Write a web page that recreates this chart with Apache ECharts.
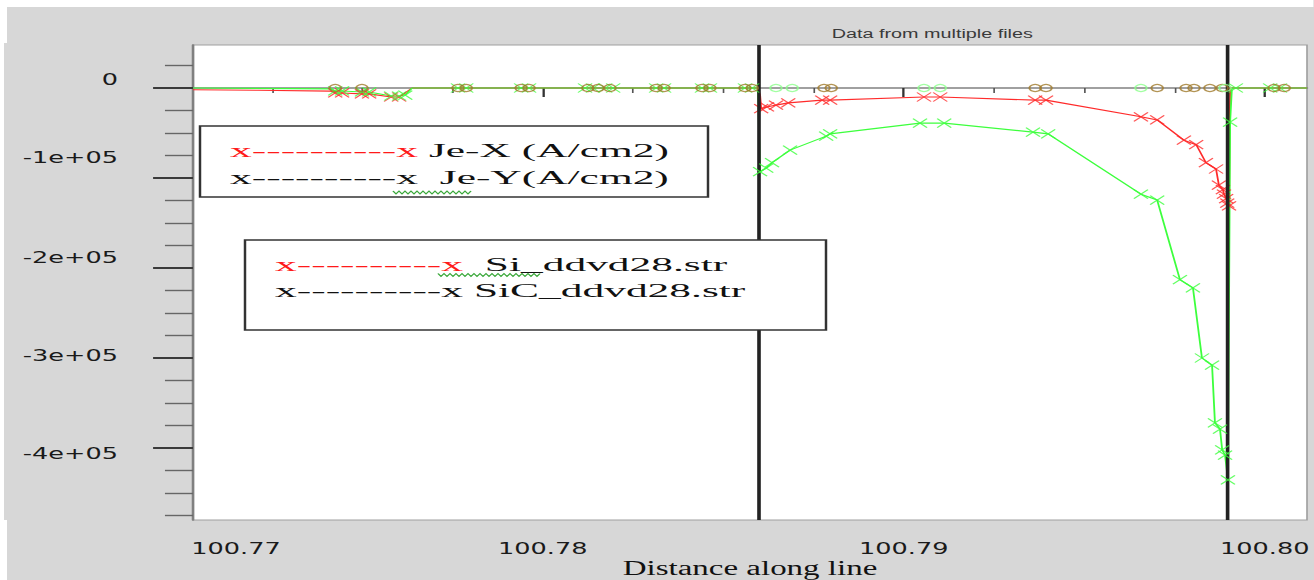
<!DOCTYPE html>
<html>
<head>
<meta charset="utf-8">
<script src="https://cdn.jsdelivr.net/npm/echarts@6/dist/echarts.min.js"></script>
<style>
html,body{margin:0;padding:0;background:#d7d7d7;overflow:hidden;width:1314px;height:580px;}
#chart{position:absolute;left:0;top:0;height:580px;transform-origin:0 0;}
</style>
</head>
<body>
<div id="chart"></div>
<script>
// ---------------- data (distance along line, current density A/cm2) ----------------
const xRange = [100.77031, 100.80117];
const yRange = [-480000, 47778];

const xMajorTicks = [100.78, 100.79, 100.80];
const xMinorTicks = [100.7725, 100.775, 100.7775, 100.7825, 100.785, 100.7875, 100.7925, 100.795, 100.7975];
const xTickLabels = ['100.77', '100.78', '100.79', '100.80'];
const xLabelAt = [100.7715, 100.78, 100.79, 100.80];

const yMajorTicks = [0, -100000, -200000, -300000, -400000];
const yMinorTicks = [25000, -25000, -50000, -75000, -125000, -150000, -175000, -225000, -250000, -275000,
                     -325000, -350000, -375000, -425000, -450000, -475000];
const yTickLabels = ['0', '-1e+05', '-2e+05', '-3e+05', '-4e+05'];
// where the original picture prints those labels (they do not sit exactly on their ticks)
const yLabelAt = [8900, -76700, -187800, -296700, -405600];

const boundaries = [100.78596, 100.79898];

// red trace (x markers)
const redDip = [[100.77425,-5500],[100.77444,-5500],[100.77499,-6500],[100.77519,-6500],[100.77580,-10000],[100.77602,-10000]];
const redCurve = [[100.78605,-23000],[100.78621,-21000],[100.78646,-19000],[100.78680,-16500],[100.78774,-13500],[100.78796,-13500],
  [100.79056,-10000],[100.79101,-10000],[100.79364,-13500],[100.79394,-13500],[100.79657,-32000],[100.79702,-35500],
  [100.79776,-58000],[100.79810,-63000],[100.79837,-83000],[100.79865,-90000],[100.79873,-108000],[100.79884,-113000],
  [100.79887,-118000],[100.79893,-123000],[100.79896,-128000],[100.79901,-131000]];
const redStart = [[100.77031,-2000],[100.77211,-2500],[100.77411,-3500]];
const redJoin = [[100.77638,0],[100.78596,0],[100.78602,-8000]];
const redEnd = [[100.79904,0],[100.80117,0]];

// green trace (x markers)
const greenStart = [[100.77031,0],[100.77411,-1000]];
const greenDip = [[100.77425,-3300],[100.77444,-3300],[100.77499,-4400],[100.77519,-4400],[100.77580,-8900],[100.77602,-8900],[100.77619,-7800]];
const greenZero = [[100.77765,0],[100.77788,0],[100.77940,0],[100.77962,0],[100.78117,0],[100.78139,0],[100.78173,0],[100.78195,0],
  [100.78314,0],[100.78336,0],[100.78441,0],[100.78463,0],[100.78560,0],[100.78580,0]];
const greenCurve = [[100.78602,-93000],[100.78619,-89000],[100.78635,-83000],[100.78685,-69000],[100.78785,-53500],[100.78796,-51000],
  [100.79045,-39000],[100.79112,-39000],[100.79358,-49000],[100.79400,-51000],[100.79657,-118000],[100.79702,-124500],
  [100.79765,-213000],[100.79801,-222000],[100.79826,-300000],[100.79854,-308000],[100.79862,-372000],[100.79876,-379000],
  [100.79882,-402000],[100.79890,-408000],[100.79898,-435500],[100.79904,-38000]];
const greenRight = [[100.79920,0],[100.80015,0],[100.80042,0]];

// circle markers lying on the zero line
const oliveCircleX = [100.77425,100.77499,100.77765,100.77788,100.77940,100.77962,100.78125,100.78153,100.78186,100.78314,
  100.78336,100.78441,100.78463,100.78560,100.78580,100.78779,100.78799,100.79364,100.79394,100.79702,100.79782,100.79804,
  100.79848,100.79882,100.80026,100.80054];
const lightCircleX = [100.78646,100.78691,100.79056,100.79101,100.79657,100.79890];

// ---------------- chart ----------------
const S = 1.65;                       // horizontal stretch of the original picture
const W = 1314 / S;
const dom = document.getElementById('chart');
dom.style.width = W + 'px';
dom.style.transform = 'scaleX(' + S + ')';
const chart = echarts.init(dom, null, {renderer: 'svg', width: W, height: 580});

const RED = '#ff2b2b', GREEN = '#3dff3d', OLIVE = '#a07a2c', LIGHTG = '#8cff8c';
const XSYM = 'path://M0 0L10 10M10 0L0 10';

const redPath = [...redStart, ...redDip, ...redJoin, ...redCurve, ...redEnd];
const greenPath = [...greenStart, ...greenDip, [100.77638,0], ...greenZero, [100.78596,0], ...greenCurve, [100.79909,0], ...greenRight, [100.80117,0]];
const greenMarks = [...greenDip, ...greenZero, ...greenCurve, ...greenRight];
const redMarks = [...redDip, ...redCurve];

function nearestIdx(arr, v) {
  let b = 0;
  arr.forEach((a, i) => { if (Math.abs(a - v) < Math.abs(arr[b] - v)) b = i; });
  return b;
}
function zig(x0, x1, y) {
  const pts = [];
  for (let x = x0, i = 0; x <= x1; x += 3, i++) pts.push([x / S, y + (i % 2 ? 1.4 : -1.4)]);
  return pts;
}
const legendFont = '19.5px "Liberation Serif"';
function legendText(x, y, txt) {
  return {
    type: 'text', x: x / S, y: y, scaleX: 1.35, z: 20,
    style: {
      text: txt, font: legendFont, fill: '#111', verticalAlign: 'middle',
      rich: { r: { font: legendFont, fill: '#ff1a1a' } }
    }
  };
}

const option = {
  animation: false,
  backgroundColor: '#d7d7d7',
  title: {
    text: 'Data from multiple files', left: 924 / S, top: 23, textAlign: 'center',
    textStyle: { fontFamily: 'Liberation Sans', fontSize: 12, fontWeight: 'normal', color: '#3a3a3a' }
  },
  grid: {
    left: 193 / S, right: 7 / S, top: 45, bottom: 60,
    show: true, backgroundColor: '#ffffff', borderColor: '#a0a0a0', borderWidth: 1,
    containLabel: false, outerBoundsMode: 'none'
  },
  xAxis: [
    {
      type: 'value', min: xRange[0], max: xRange[1], position: 'bottom',
      axisLine: { show: true, lineStyle: { color: '#808080', width: 1.6 } },
      axisTick: { show: true, customValues: xMajorTicks, length: 9, lineStyle: { color: '#333', width: 1.4 } },
      axisLabel: {
        show: true, customValues: xLabelAt, margin: 20,
        formatter: v => xTickLabels[nearestIdx(xLabelAt, v)],
        fontFamily: 'DejaVu Sans', fontSize: 15.5, color: '#1a1a1a'
      },
      splitLine: { show: false },
      name: 'Distance along line', nameLocation: 'middle', nameGap: 38, nameMoveOverlap: false,
      nameTextStyle: { fontFamily: 'Liberation Serif', fontSize: 20, color: '#111', lineHeight: 20 }
    },
    {
      type: 'value', min: xRange[0], max: xRange[1], position: 'bottom',
      axisLine: { show: false },
      axisTick: { show: true, customValues: xMinorTicks, length: 5, lineStyle: { color: '#555', width: 1 } },
      axisLabel: { show: false }, splitLine: { show: false }
    }
  ],
  yAxis: [
    {
      type: 'value', min: yRange[0], max: yRange[1], position: 'left',
      axisLine: { show: true, lineStyle: { color: '#808080', width: 1.6 } },
      axisTick: { show: true, customValues: yMajorTicks, length: 24.2, lineStyle: { color: '#3a3a3a', width: 1.8 } },
      axisLabel: { show: false }, splitLine: { show: false }
    },
    {
      type: 'value', min: yRange[0], max: yRange[1], position: 'left',
      axisLine: { show: false },
      axisTick: { show: true, customValues: yMinorTicks, length: 17, lineStyle: { color: '#666', width: 1.4 } },
      axisLabel: {
        show: true, customValues: yLabelAt, margin: 45.5,
        formatter: v => yTickLabels[nearestIdx(yLabelAt, v)],
        fontFamily: 'DejaVu Sans', fontSize: 15.5, color: '#1a1a1a'
      },
      splitLine: { show: false }
    }
  ],
  series: [
    { type: 'line', data: redPath, showSymbol: false, lineStyle: { color: RED, width: 1.1 }, z: 2, silent: true },
    { type: 'line', data: greenPath, showSymbol: false, lineStyle: { color: GREEN, width: 1.1 }, z: 3, silent: true },
    { type: 'scatter', data: redMarks, symbol: XSYM, symbolSize: [8.5, 9], z: 4, silent: true,
      itemStyle: { color: 'rgba(0,0,0,0)', borderColor: RED, borderWidth: 1 } },
    { type: 'scatter', data: greenMarks, symbol: XSYM, symbolSize: [8.5, 9], z: 5, silent: true,
      itemStyle: { color: 'rgba(0,0,0,0)', borderColor: GREEN, borderWidth: 1 } },
    { type: 'scatter', data: oliveCircleX.map(x => [x, 0]), symbol: 'circle', symbolSize: [7, 7], z: 6, silent: true,
      itemStyle: { color: 'rgba(0,0,0,0)', borderColor: OLIVE, borderWidth: 1.2 } },
    { type: 'scatter', data: lightCircleX.map(x => [x, 0]), symbol: 'circle', symbolSize: [7, 7], z: 7, silent: true,
      itemStyle: { color: 'rgba(0,0,0,0)', borderColor: LIGHTG, borderWidth: 1.2 },
      markLine: {
        silent: true, precision: 6, symbol: ['none', 'none'], label: { show: false },
        lineStyle: { color: '#222', width: 2.2, type: 'solid' },
        data: boundaries.map(b => ({ xAxis: b }))
      } }
  ],
  graphic: [
    { type: 'rect', shape: { x: 0, y: 0, width: W, height: 7 }, style: { fill: '#ffffff' }, z: 30 },
    { type: 'rect', shape: { x: 0, y: 0, width: 4 / S, height: 580 }, style: { fill: '#ffffff' }, z: 30 },
    { type: 'rect', shape: { x: 0, y: 0, width: 7 / S, height: 43 }, style: { fill: '#ffffff' }, z: 30 },
    { type: 'rect', shape: { x: 0, y: 520, width: 7 / S, height: 60 }, style: { fill: '#ffffff' }, z: 30 },
    { type: 'rect', z: 19, shape: { x: 200 / S, y: 126, width: 508 / S, height: 71 },
      style: { fill: '#ffffff', stroke: '#333', lineWidth: 1.5 } },
    legendText(230, 150, '{r|x----------x} Je-X (A/cm2)'),
    legendText(230, 177, 'x----------x  Je-Y(A/cm2)'),
    { type: 'polyline', z: 21, shape: { points: zig(393, 473, 192.5) }, style: { stroke: '#3aa83a', lineWidth: 1, fill: null } },
    { type: 'rect', z: 19, shape: { x: 245 / S, y: 240, width: 581 / S, height: 90 },
      style: { fill: '#ffffff', stroke: '#333', lineWidth: 1.5 } },
    legendText(275, 264, '{r|x----------x}  Si_ddvd28.str'),
    legendText(275, 290, 'x----------x SiC_ddvd28.str'),
    { type: 'polyline', z: 21, shape: { points: zig(438, 542, 275) }, style: { stroke: '#3aa83a', lineWidth: 1, fill: null } }
  ]
};
chart.setOption(option);
</script>
</body>
</html>
